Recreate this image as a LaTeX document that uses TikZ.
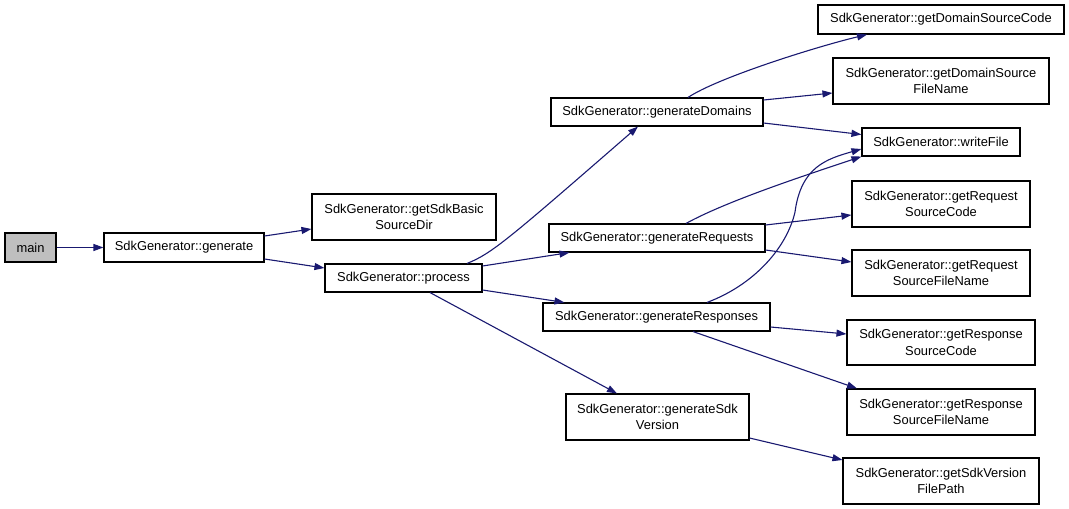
\documentclass[tikz,border=0pt]{standalone}
\usepackage{fontspec}
\setmainfont{Liberation Sans}
\usetikzlibrary{arrows.meta}
\definecolor{edgeblue}{HTML}{191970}
\definecolor{mainfill}{HTML}{BFBFBF}
\begin{document}
\begin{tikzpicture}[x=1pt,y=-1pt,
  box/.style={draw=black, line width=1.1pt, rectangle, inner sep=0pt, align=center,
    font=\fontsize{12.9}{16.5}\selectfont, fill=white},
  edge/.style={draw=edgeblue, line width=1.1pt, -{Triangle[length=10pt,width=7pt]}}]
\useasboundingbox (0,0) rectangle (1069,509);
% nodes
\node[box, fill=mainfill, minimum width=51pt, minimum height=29pt] (main) at (30.5,247.5) {main};
\node[box, minimum width=160pt, minimum height=29pt] (generate) at (184,247.5) {SdkGenerator::generate};
\node[box, minimum width=184pt, minimum height=46pt] (basic) at (404,217) {SdkGenerator::getSdkBasic\\SourceDir};
\node[box, minimum width=157pt, minimum height=28pt] (process) at (403.5,278) {SdkGenerator::process};
\node[box, minimum width=212pt, minimum height=28pt] (domains) at (657,112) {SdkGenerator::generateDomains};
\node[box, minimum width=216pt, minimum height=28pt] (requests) at (657,238) {SdkGenerator::generateRequests};
\node[box, minimum width=227pt, minimum height=28pt] (responses) at (656.5,317) {SdkGenerator::generateResponses};
\node[box, minimum width=183pt, minimum height=46pt] (sdkversion) at (657.5,417) {SdkGenerator::generateSdk\\Version};
\node[box, minimum width=246pt, minimum height=29pt] (domcode) at (941,19.5) {SdkGenerator::getDomainSourceCode};
\node[box, minimum width=216pt, minimum height=46pt] (domfile) at (941,81) {SdkGenerator::getDomainSource\\FileName};
\node[box, minimum width=158pt, minimum height=28pt] (writefile) at (941,142) {SdkGenerator::writeFile};
\node[box, minimum width=178pt, minimum height=46pt] (reqcode) at (941,204) {SdkGenerator::getRequest\\SourceCode};
\node[box, minimum width=178pt, minimum height=46pt] (reqfile) at (941,273) {SdkGenerator::getRequest\\SourceFileName};
\node[box, minimum width=188pt, minimum height=45pt] (respcode) at (941,342.5) {SdkGenerator::getResponse\\SourceCode};
\node[box, minimum width=188pt, minimum height=46pt] (respfile) at (941,412) {SdkGenerator::getResponse\\SourceFileName};
\node[box, minimum width=196pt, minimum height=46pt] (sdkpath) at (941,481) {SdkGenerator::getSdkVersion\\FilePath};
\coordinate (sMid) at (795,212);
% edges
\draw[edge] (main.east) -- (generate.west);
\draw[edge] ([yshift=11.5pt]generate.east) -- ([yshift=-12pt]basic.west);
\draw[edge] ([yshift=-11.5pt]generate.east) -- ([yshift=10pt]process.west);
\draw[edge] ([xshift=63.5pt]process.north) .. controls +(25,-10) and +(-130,113) .. ([xshift=-19pt]domains.south);
\draw[edge] ([yshift=12pt]process.east) -- ([xshift=21pt]requests.south west);
\draw[edge] ([yshift=-12pt]process.east) -- ([xshift=22pt]responses.north west);
\draw[edge] ([xshift=26.5pt]process.south) -- ([xshift=-40.5pt]sdkversion.north);
\draw[edge] ([xshift=31pt]domains.north) .. controls +(30,-20) and +(-50,12) .. ([xshift=-74pt]domcode.south);
\draw[edge] ([yshift=12pt]domains.east) -- ([yshift=-12pt]domfile.west);
\draw[edge] ([yshift=-11pt]domains.east) -- ([yshift=7.5pt]writefile.west);
\draw[edge] ([xshift=29pt]requests.north) .. controls +(40,-22) and +(-60,20) .. (writefile.south west);
\draw[edge] ([xshift=50.5pt]responses.north) .. controls +(48,-18) and +(-8,35) .. (sMid) .. controls +(6,-45) and +(-35,10) .. ([yshift=-7pt]writefile.west);
\draw[edge] ([yshift=13pt]requests.east) -- ([yshift=-11pt]reqcode.west);
\draw[edge] ([yshift=-12pt]requests.east) -- ([yshift=11pt]reqfile.west);
\draw[edge] ([yshift=-10pt]responses.east) -- ([yshift=8.5pt]respcode.west);
\draw[edge] ([xshift=36.5pt]responses.south) -- ([xshift=-84pt]respfile.north);
\draw[edge] ([yshift=-21pt]sdkversion.east) -- ([yshift=21pt]sdkpath.west);
\end{tikzpicture}
\end{document}
